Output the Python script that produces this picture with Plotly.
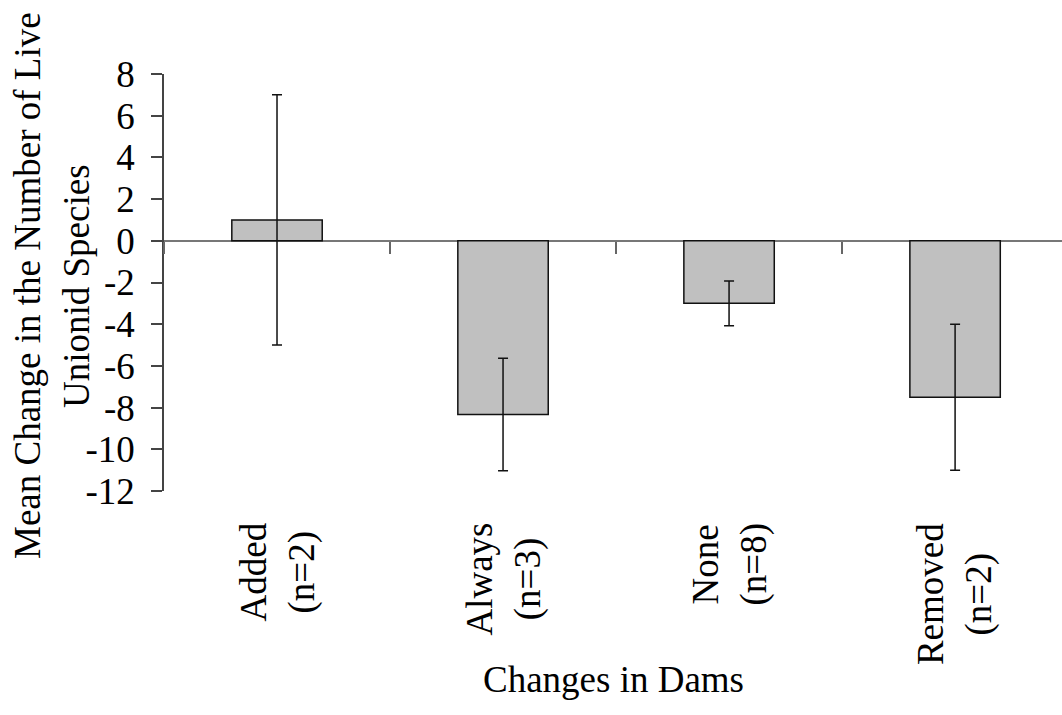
import plotly.graph_objects as go

# Mean change in live unionid species richness by dam status
categories = ["Added", "Always", "None", "Removed"]
sample_sizes = [2, 3, 8, 2]
mean_change = [1.0, -8.33, -3.0, -7.5]
error_size = [6.0, 2.7, 1.07, 3.5]
y_ticks = [8, 6, 4, 2, 0, -2, -4, -6, -8, -10, -12]
y_tick_text = [str(v) for v in y_ticks]

FONT = "Liberation Serif"
SIZE = 37

fig = go.Figure()
fig.add_trace(go.Bar(
    x=categories,
    y=mean_change,
    width=0.4,
    marker=dict(color="#C0C0C0", line=dict(color="#111111", width=1.5)),
    error_y=dict(type="data", array=error_size, visible=True,
                 color="#111111", thickness=1.5, width=5),
    showlegend=False,
))

# Rotated two-line category labels below the plot
for cat, n in zip(categories, sample_sizes):
    fig.add_annotation(
        x=cat, xref="x", y=0, yref="paper",
        text=f"{cat}<br>(n={n})", textangle=-90,
        xanchor="center", yanchor="top", yshift=-30,
        showarrow=False, align="center",
        font=dict(family=FONT, size=SIZE, color="black"),
    )

# Axis titles
fig.add_annotation(
    text="Changes in Dams", x=0.5, xref="paper", y=-0.453, yref="paper",
    xanchor="center", yanchor="middle", showarrow=False,
    font=dict(family=FONT, size=SIZE, color="black"),
)
fig.add_annotation(
    text="Mean Change in the Number of Live", textangle=-90,
    x=0, xref="paper", xshift=-137, y=0.4916, yref="paper",
    xanchor="center", yanchor="middle", showarrow=False,
    font=dict(family=FONT, size=SIZE, color="black"),
)
fig.add_annotation(
    text="Unionid Species", textangle=-90,
    x=0, xref="paper", xshift=-88, y=0.4916, yref="paper",
    xanchor="center", yanchor="middle", showarrow=False,
    font=dict(family=FONT, size=SIZE, color="black"),
)

fig.update_layout(
    width=1062, height=715,
    margin=dict(l=164, r=0, t=74, b=224),
    plot_bgcolor="white", paper_bgcolor="white",
    font=dict(family=FONT, size=SIZE, color="black"),
    bargap=0.6,
    xaxis=dict(
        type="category",
        range=[-0.5, 3.473],
        anchor="free", position=0.6,
        showticklabels=False,
        ticks="outside", tickson="boundaries", ticklen=12,
        tickwidth=1.5, tickcolor="#666666",
        showline=False, showgrid=False, zeroline=False,
    ),
    yaxis=dict(
        range=[-12, 8],
        tickvals=y_ticks, ticktext=y_tick_text,
        ticks="outside", ticklen=11, tickwidth=1.5, tickcolor="#444444",
        showline=True, linecolor="#444444", linewidth=1.5,
        showgrid=False,
        zeroline=True, zerolinecolor="#777777", zerolinewidth=1.5,
        ticklabelstandoff=9,
        tickfont=dict(family=FONT, size=SIZE, color="black"),
    ),
)

fig.write_html("out.html")
